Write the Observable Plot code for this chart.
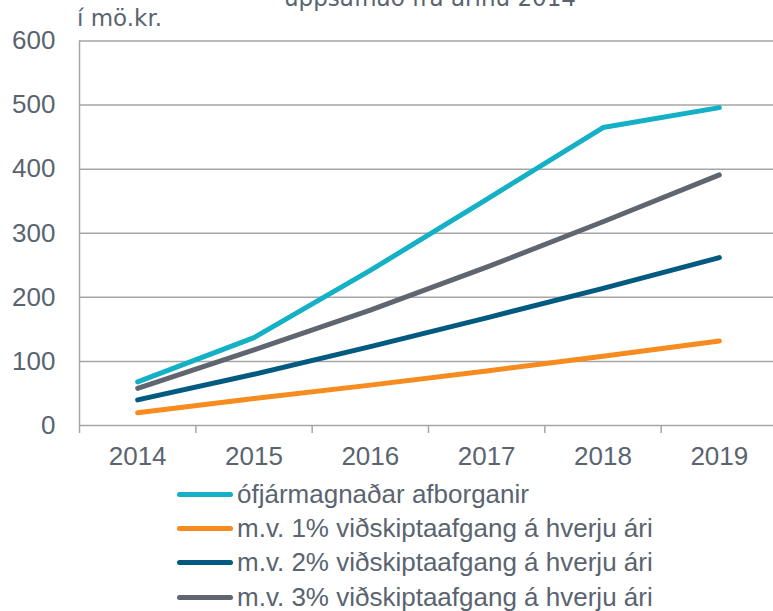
<!DOCTYPE html>
<html><head><meta charset="utf-8">
<script src="https://cdn.jsdelivr.net/npm/d3@7"></script>
<script src="https://cdn.jsdelivr.net/npm/@observablehq/plot@0.6"></script>
<style>
body{margin:0;background:#fff;overflow:hidden;width:773px;height:611px;}
#header{position:relative;height:28px;}
#title{position:absolute;left:79px;width:702px;top:-13px;text-align:center;font:23px/23px "DejaVu Sans",sans-serif;color:#5a6470;white-space:nowrap;}
#unit{position:absolute;left:77px;top:7px;font:23px/23px "DejaVu Sans",sans-serif;color:#5a6470;white-space:nowrap;}
#legend{padding-left:177px;font:26px "Liberation Sans",Arial,sans-serif;color:#5a6470;}
.row{display:flex;align-items:center;height:34.3px;white-space:nowrap;}
.sw{width:56px;height:5px;border-radius:3px;margin-right:4px;flex:none;}
svg{display:block;overflow:visible}
</style></head>
<body>
<div id="header"><div id="title">uppsafnað frá árinu 2014</div><div id="unit">í mö.kr.</div></div>
<div id="chart"></div>
<div id="legend"></div>
<script>
const years = [2014, 2015, 2016, 2017, 2018, 2019];
const seriesNames = [
  "ófjármagnaðar afborganir",
  "m.v. 1% viðskiptaafgang á hverju ári",
  "m.v. 2% viðskiptaafgang á hverju ári",
  "m.v. 3% viðskiptaafgang á hverju ári"
];
const seriesColors = ["#13b0c6", "#f68b1f", "#035a80", "#5f6670"];
const ofjarmagnad = [68, 137, 242, 353, 465, 496];
const vidskipti1 = [20, 42, 63, 85, 108, 132];
const vidskipti2 = [40, 80, 123, 168, 214, 262];
const vidskipti3 = [58, 118, 180, 247, 318, 391];
const yTicks = [0, 100, 200, 300, 400, 500, 600];
const bandEdges = [2013.5, 2014.5, 2015.5, 2016.5, 2017.5, 2018.5, 2019.5];

const allSeries = [ofjarmagnad, vidskipti1, vidskipti2, vidskipti3];
const data = [];
allSeries.forEach((vals, i) => vals.forEach((v, j) => data.push({series: seriesNames[i], year: years[j], value: v})));

const chart = Plot.plot({
  width: 773, height: 449,
  marginTop: 12.5, marginBottom: 52, marginLeft: 79, marginRight: 0,
  x: {domain: [2013.5, 2019.5], range: [79, 777], axis: null, label: null},
  y: {domain: [0, 600], axis: null, label: null},
  color: {domain: seriesNames, range: seriesColors},
  style: {fontFamily: "'Liberation Sans', Arial, sans-serif", fontSize: "26px", color: "#5a6470", overflow: "visible", background: "white"},
  marks: [
    Plot.gridY(yTicks, {stroke: "#a6a6a6", strokeOpacity: 1, strokeWidth: 1.5}),
    Plot.ruleX([2013.5], {y1: 0, y2: 600, stroke: "#a6a6a6", strokeWidth: 1.5}),
    Plot.axisY(yTicks, {tickSize: 0, tickPadding: 24, fontSize: 26, fill: "#5a6470", label: null, tickFormat: d => String(d)}),
    Plot.axisX(bandEdges, {tickSize: 8, stroke: "#a6a6a6", strokeWidth: 1.5, label: null, tickFormat: () => ""}),
    Plot.axisX(years, {tickSize: 0, tickPadding: 21, fontSize: 26, fill: "#5a6470", label: null, tickFormat: d => String(d)}),
    Plot.line(data, {x: "year", y: "value", z: "series", stroke: "series", strokeWidth: 5, strokeLinecap: "round", strokeLinejoin: "round"})
  ]
});
document.getElementById("chart").appendChild(chart);

const legend = document.getElementById("legend");
seriesNames.forEach((name, i) => {
  const row = document.createElement("div");
  row.className = "row";
  const sw = document.createElement("span");
  sw.className = "sw";
  sw.style.background = seriesColors[i];
  const label = document.createElement("span");
  label.textContent = name;
  row.appendChild(sw);
  row.appendChild(label);
  legend.appendChild(row);
});
</script>
</body></html>
